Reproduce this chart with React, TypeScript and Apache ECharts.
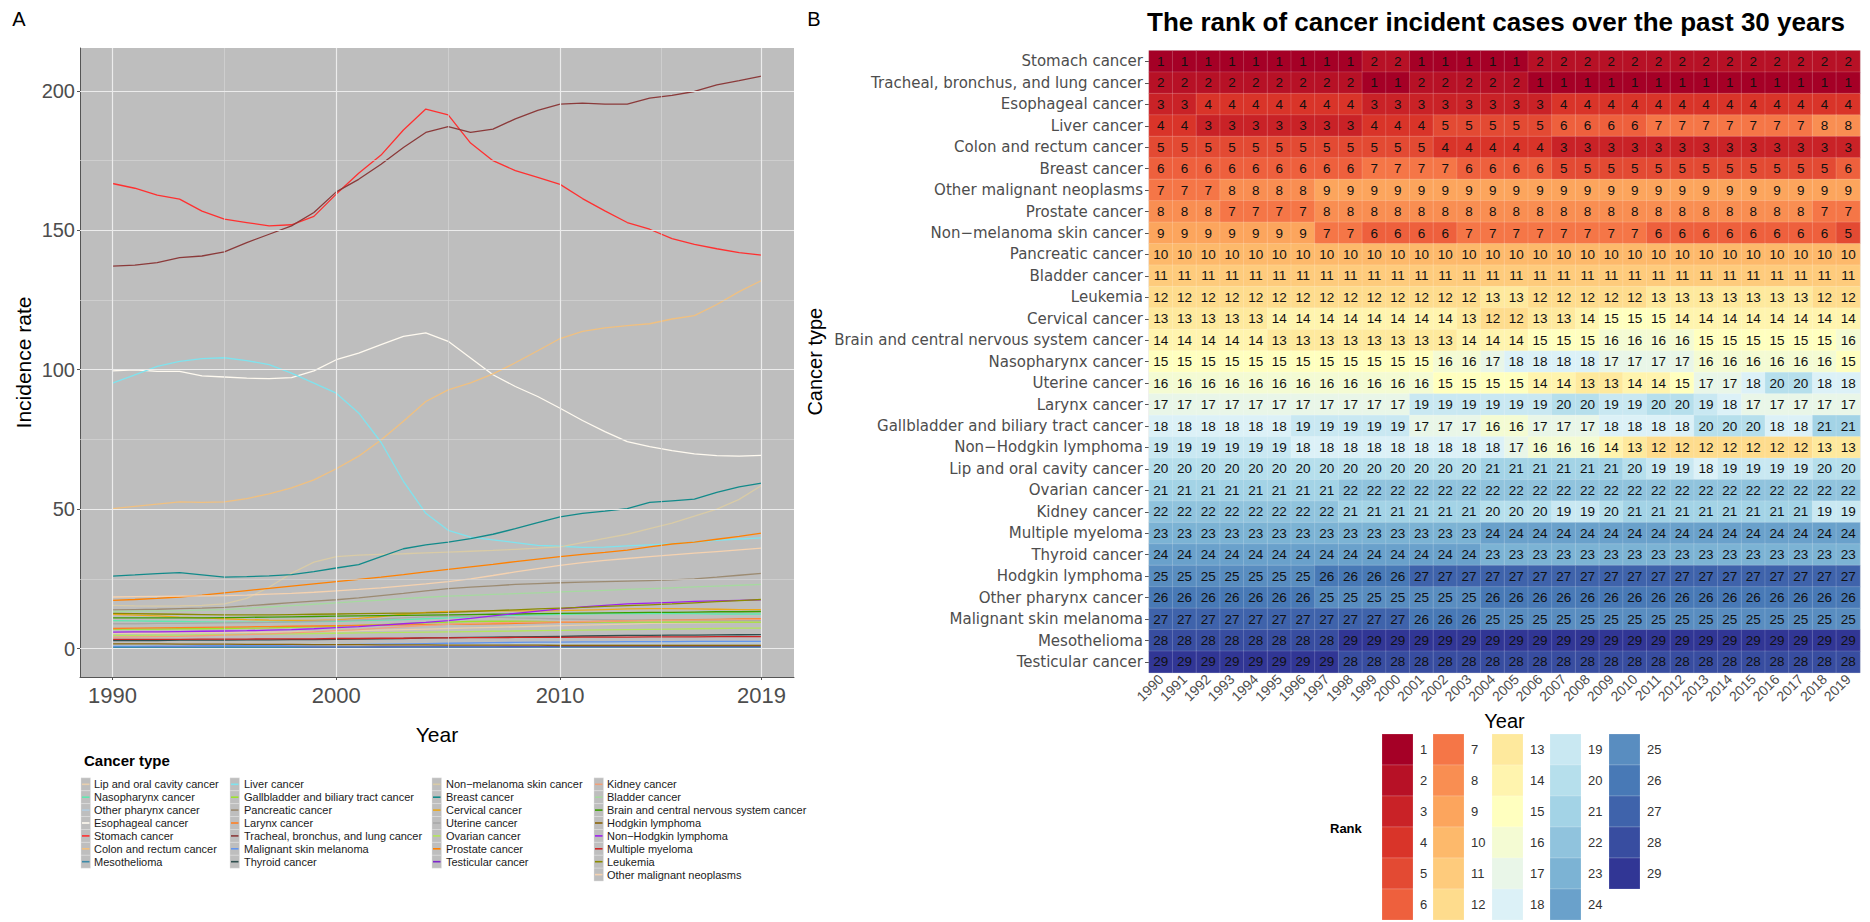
import React, { useEffect, useRef } from "react";
import * as echarts from "echarts";

// ---------- shared ----------
const years = [1990, 1991, 1992, 1993, 1994, 1995, 1996, 1997, 1998, 1999, 2000, 2001, 2002, 2003, 2004, 2005, 2006, 2007, 2008, 2009, 2010, 2011, 2012, 2013, 2014, 2015, 2016, 2017, 2018, 2019];

// ---------- panel A: incidence rate lines ----------
const xMajorTicks = [1990, 2000, 2010, 2019];
const xMinorTicks = [1995, 2005, 2014.5];
const yMajorTicks = [0, 50, 100, 150, 200];
const yMinorTicks = [25, 75, 125, 175];

const rateLip = [5.5, 5.5, 5.5, 5.6, 5.6, 5.7, 5.8, 5.9, 6.0, 6.1, 6.2, 6.4, 6.6, 6.8, 7.0, 7.2, 7.4, 7.6, 7.8, 8.0, 8.2, 8.4, 8.6, 8.8, 9.0, 9.1, 9.2, 9.3, 9.4, 9.5];
const rateNaso = [10.0, 9.9, 9.8, 9.7, 9.6, 9.5, 9.5, 9.5, 9.6, 9.7, 9.8, 10.0, 10.2, 10.4, 10.7, 11.0, 11.3, 11.6, 11.9, 12.1, 12.3, 12.4, 12.5, 12.5, 12.5, 12.5, 12.5, 12.4, 12.4, 12.4];
const rateOtherPharynx = [1.3, 1.3, 1.3, 1.3, 1.3, 1.3, 1.4, 1.4, 1.4, 1.5, 1.5, 1.5, 1.6, 1.6, 1.6, 1.7, 1.7, 1.7, 1.8, 1.8, 1.8, 1.9, 1.9, 1.9, 1.9, 2.0, 2.0, 2.0, 2.0, 2.0];
const rateEsophageal = [99.6, 100.0, 99.4, 99.4, 97.8, 97.4, 97.0, 96.8, 97.2, 99.6, 103.6, 106.0, 109.0, 112.0, 113.2, 110.2, 104.2, 98.2, 94.0, 90.4, 86.2, 81.8, 77.8, 74.2, 72.4, 71.0, 69.8, 69.2, 69.0, 69.3];
const rateStomach = [166.8, 165.1, 162.6, 161.2, 156.9, 154.0, 152.8, 151.6, 152.0, 155.0, 163.0, 170.5, 177.0, 186.0, 193.5, 191.4, 181.3, 175.0, 171.4, 169.0, 166.5, 161.4, 157.0, 152.8, 150.4, 147.0, 145.0, 143.4, 142.0, 141.1];
const rateColon = [50.2, 51.0, 51.8, 52.6, 52.4, 52.6, 53.8, 55.5, 57.6, 60.5, 64.5, 69.0, 74.8, 81.5, 88.6, 92.8, 95.3, 98.5, 102.5, 106.8, 111.2, 113.8, 115.0, 115.8, 116.5, 118.2, 119.4, 123.4, 128.0, 132.0];
const rateMeso = [0.45, 0.45, 0.46, 0.46, 0.46, 0.47, 0.47, 0.47, 0.47, 0.48, 0.48, 0.48, 0.48, 0.49, 0.49, 0.49, 0.49, 0.5, 0.5, 0.5, 0.5, 0.5, 0.51, 0.51, 0.51, 0.51, 0.52, 0.52, 0.52, 0.52];
const rateLiver = [95.2, 98.2, 101.2, 103.0, 104.0, 104.3, 103.3, 101.8, 98.8, 95.2, 91.6, 84.5, 74.0, 60.0, 48.5, 42.4, 40.0, 39.0, 38.0, 37.0, 36.7, 36.3, 36.4, 36.8, 37.2, 37.6, 38.2, 38.8, 39.3, 39.7];
const rateGallbladder = [7.0, 7.0, 7.0, 7.1, 7.1, 7.2, 7.3, 7.4, 7.6, 7.8, 8.0, 8.3, 8.6, 8.9, 9.2, 9.5, 9.7, 9.8, 9.8, 9.7, 9.6, 9.5, 9.5, 9.5, 9.5, 9.5, 9.5, 9.5, 9.5, 9.5];
const ratePancreatic = [13.9, 14.0, 14.1, 14.3, 14.5, 14.8, 15.3, 15.9, 16.5, 17.0, 17.5, 18.2, 19.0, 19.8, 20.7, 21.5, 22.0, 22.5, 23.0, 23.3, 23.6, 23.8, 24.0, 24.2, 24.4, 24.6, 25.0, 25.6, 26.3, 27.0];
const rateLarynx = [7.2, 7.3, 7.4, 7.5, 7.6, 7.7, 7.8, 7.9, 8.0, 8.1, 8.2, 8.3, 8.4, 8.5, 8.6, 8.7, 8.8, 8.9, 9.0, 9.2, 9.4, 9.6, 9.8, 10.0, 10.2, 10.3, 10.4, 10.5, 10.6, 10.7];
const rateLung = [137.2, 137.5, 138.4, 140.2, 140.8, 142.3, 145.6, 148.6, 151.6, 156.4, 163.8, 168.3, 173.7, 179.7, 185.1, 187.2, 185.1, 186.3, 190.0, 193.0, 195.3, 195.6, 195.3, 195.3, 197.4, 198.4, 199.8, 202.2, 203.7, 205.3];
const rateMelanoma = [0.8, 0.8, 0.9, 0.9, 1.0, 1.0, 1.1, 1.1, 1.2, 1.3, 1.4, 1.5, 1.6, 1.7, 1.8, 1.9, 2.0, 2.1, 2.2, 2.3, 2.3, 2.4, 2.4, 2.5, 2.5, 2.5, 2.6, 2.6, 2.6, 2.6];
const rateThyroid = [2.9, 2.9, 2.9, 3.0, 3.0, 3.0, 3.1, 3.1, 3.2, 3.2, 3.3, 3.4, 3.5, 3.6, 3.85, 3.9, 4.0, 4.1, 4.2, 4.3, 4.4, 4.5, 4.6, 4.7, 4.75, 4.8, 4.85, 4.9, 4.95, 5.0];
const rateNMSC = [15.5, 15.3, 15.2, 15.3, 15.5, 16.0, 18.0, 22.0, 27.0, 31.0, 33.0, 33.5, 33.8, 34.0, 34.3, 34.6, 34.9, 35.2, 35.6, 36.0, 36.5, 38.0, 39.5, 41.0, 43.0, 45.0, 47.5, 50.0, 53.5, 58.5];
const rateBreast = [26.0, 26.4, 26.9, 27.2, 26.4, 25.6, 25.8, 26.1, 26.5, 27.6, 28.9, 30.1, 33.0, 35.8, 37.2, 38.2, 39.4, 41.0, 43.0, 45.2, 47.2, 48.5, 49.3, 50.2, 52.4, 53.0, 53.6, 56.0, 58.0, 59.3];
const rateCervical = [12.3, 12.0, 11.7, 11.3, 11.0, 10.7, 10.4, 10.2, 10.1, 10.1, 10.3, 10.8, 11.5, 12.3, 13.0, 13.3, 13.4, 13.5, 13.5, 13.5, 13.6, 13.8, 14.0, 14.2, 14.3, 14.3, 14.2, 14.1, 14.0, 14.0];
const rateUterine = [8.9, 8.9, 9.0, 9.0, 9.1, 9.2, 9.3, 9.4, 9.6, 9.8, 10.0, 10.3, 10.6, 11.0, 11.4, 11.6, 11.5, 11.3, 11.0, 10.8, 10.6, 10.5, 10.4, 10.3, 10.2, 10.2, 10.1, 10.1, 10.1, 10.0];
const rateOvarian = [4.7, 4.7, 4.8, 4.8, 4.9, 5.0, 5.1, 5.2, 5.3, 5.4, 5.5, 5.6, 5.7, 5.8, 5.9, 6.0, 6.1, 6.2, 6.3, 6.4, 6.5, 6.6, 6.7, 6.8, 6.9, 7.0, 7.1, 7.2, 7.3, 7.3];
const rateProstate = [17.3, 17.6, 18.0, 18.5, 19.2, 20.0, 20.8, 21.6, 22.4, 23.2, 24.0, 24.8, 25.6, 26.5, 27.5, 28.4, 29.3, 30.2, 31.2, 32.1, 33.0, 33.8, 34.5, 35.3, 36.5, 37.5, 38.2, 39.2, 40.2, 41.4];
const rateTesticular = [0.36, 0.37, 0.38, 0.39, 0.41, 0.42, 0.44, 0.46, 0.48, 0.5, 0.52, 0.54, 0.56, 0.58, 0.6, 0.62, 0.63, 0.64, 0.65, 0.66, 0.67, 0.68, 0.69, 0.7, 0.7, 0.71, 0.72, 0.72, 0.73, 0.73];
const rateKidney = [4.1, 4.2, 4.3, 4.4, 4.6, 4.8, 5.0, 5.3, 5.6, 6.0, 6.4, 6.8, 7.3, 7.8, 8.3, 8.7, 9.0, 9.2, 9.4, 9.5, 9.6, 9.7, 9.8, 9.9, 10.0, 10.1, 10.2, 10.3, 10.4, 10.5];
const rateBladder = [13.3, 13.4, 13.5, 13.6, 13.8, 14.0, 14.4, 14.9, 15.4, 15.9, 16.4, 16.9, 17.4, 17.9, 18.4, 18.8, 19.1, 19.4, 19.7, 20.0, 20.3, 20.6, 20.9, 21.2, 21.5, 21.8, 22.1, 22.4, 22.7, 23.0];
const rateBrain = [11.0, 11.0, 11.0, 11.0, 11.0, 11.1, 11.2, 11.3, 11.4, 11.5, 11.6, 11.7, 11.8, 11.9, 12.0, 12.1, 12.2, 12.3, 12.4, 12.5, 12.6, 12.7, 12.8, 12.9, 13.0, 13.0, 13.1, 13.2, 13.2, 13.3];
const rateHodgkin = [1.7, 1.7, 1.7, 1.6, 1.6, 1.6, 1.5, 1.5, 1.5, 1.4, 1.4, 1.4, 1.3, 1.3, 1.3, 1.2, 1.2, 1.2, 1.2, 1.2, 1.1, 1.1, 1.1, 1.1, 1.1, 1.1, 1.1, 1.1, 1.1, 1.1];
const rateNHL = [5.9, 6.0, 6.0, 6.1, 6.2, 6.3, 6.4, 6.6, 6.8, 7.1, 7.5, 7.9, 8.4, 8.9, 9.4, 10.0, 10.8, 11.7, 12.6, 13.4, 14.2, 14.9, 15.5, 16.0, 16.3, 16.6, 16.9, 17.1, 17.3, 17.5];
const rateMyeloma = [3.3, 3.3, 3.3, 3.3, 3.4, 3.4, 3.4, 3.5, 3.5, 3.5, 3.6, 3.6, 3.7, 3.7, 3.8, 3.8, 3.9, 3.9, 4.0, 4.0, 4.0, 4.1, 4.1, 4.1, 4.2, 4.2, 4.2, 4.3, 4.3, 4.3];
const rateLeukemia = [12.6, 12.5, 12.4, 12.3, 12.2, 12.1, 12.1, 12.1, 12.2, 12.3, 12.4, 12.5, 12.6, 12.7, 12.8, 13.0, 13.3, 13.6, 13.9, 14.2, 14.5, 14.8, 15.1, 15.4, 15.7, 16.0, 16.4, 16.8, 17.2, 17.6];
const rateOther = [18.5, 18.6, 18.7, 18.8, 18.9, 19.0, 19.2, 19.5, 19.8, 20.2, 20.7, 21.2, 21.8, 22.5, 23.2, 24.0, 25.0, 26.2, 27.5, 28.7, 29.8, 30.8, 31.6, 32.3, 33.0, 33.6, 34.2, 34.8, 35.4, 36.0];

const lineSeriesDefs: [string, string, number[]][] = [
  ["Lip and oral cavity cancer", "#e8cfae", rateLip],
  ["Nasopharynx cancer", "#5ee8b0", rateNaso],
  ["Other pharynx cancer", "#b4cde0", rateOtherPharynx],
  ["Esophageal cancer", "#fffaf0", rateEsophageal],
  ["Stomach cancer", "#ff3030", rateStomach],
  ["Colon and rectum cancer", "#f0c080", rateColon],
  ["Liver cancer", "#7fe3ee", rateLiver],
  ["Gallbladder and biliary tract cancer", "#9be22d", rateGallbladder],
  ["Pancreatic cancer", "#9c8b72", ratePancreatic],
  ["Larynx cancer", "#ff7f24", rateLarynx],
  ["Tracheal, bronchus, and lung cancer", "#8b3a3a", rateLung],
  ["Malignant skin melanoma", "#6495ed", rateMelanoma],
  ["Non\u2212melanoma skin cancer", "#d9cba6", rateNMSC],
  ["Breast cancer", "#118a8a", rateBreast],
  ["Cervical cancer", "#eaa81c", rateCervical],
  ["Uterine cancer", "#a9a9a9", rateUterine],
  ["Ovarian cancer", "#b3e65c", rateOvarian],
  ["Prostate cancer", "#ff8000", rateProstate],
  ["Testicular cancer", "#7d26cd", rateTesticular],
  ["Kidney cancer", "#f0a07a", rateKidney],
  ["Bladder cancer", "#a6d9a0", rateBladder],
  ["Brain and central nervous system cancer", "#3b9c00", rateBrain],
  ["Thyroid cancer", "#2f4f4f", rateThyroid],
  ["Mesothelioma", "#3c8aa8", rateMeso],
  ["Hodgkin lymphoma", "#8b6508", rateHodgkin],
  ["Non\u2212Hodgkin lymphoma", "#a020f0", rateNHL],
  ["Multiple myeloma", "#cd2626", rateMyeloma],
  ["Leukemia", "#8b8b00", rateLeukemia],
  ["Other malignant neoplasms", "#f5d2b0", rateOther],
];

const legendCol1 = ["Lip and oral cavity cancer", "Nasopharynx cancer", "Other pharynx cancer", "Esophageal cancer", "Stomach cancer", "Colon and rectum cancer", "Mesothelioma"];
const legendCol2 = ["Liver cancer", "Gallbladder and biliary tract cancer", "Pancreatic cancer", "Larynx cancer", "Tracheal, bronchus, and lung cancer", "Malignant skin melanoma", "Thyroid cancer"];
const legendCol3 = ["Non\u2212melanoma skin cancer", "Breast cancer", "Cervical cancer", "Uterine cancer", "Ovarian cancer", "Prostate cancer", "Testicular cancer"];
const legendCol4 = ["Kidney cancer", "Bladder cancer", "Brain and central nervous system cancer", "Hodgkin lymphoma", "Non\u2212Hodgkin lymphoma", "Multiple myeloma", "Leukemia", "Other malignant neoplasms"];

// ---------- panel B: rank heatmap ----------
const heatCancers = [
  "Stomach cancer", "Tracheal, bronchus, and lung cancer", "Esophageal cancer", "Liver cancer", "Colon and rectum cancer",
  "Breast cancer", "Other malignant neoplasms", "Prostate cancer", "Non\u2212melanoma skin cancer", "Pancreatic cancer",
  "Bladder cancer", "Leukemia", "Cervical cancer", "Brain and central nervous system cancer", "Nasopharynx cancer",
  "Uterine cancer", "Larynx cancer", "Gallbladder and biliary tract cancer", "Non\u2212Hodgkin lymphoma", "Lip and oral cavity cancer",
  "Ovarian cancer", "Kidney cancer", "Multiple myeloma", "Thyroid cancer", "Hodgkin lymphoma",
  "Other pharynx cancer", "Malignant skin melanoma", "Mesothelioma", "Testicular cancer",
];

const rankStomach = [1, 1, 1, 1, 1, 1, 1, 1, 1, 2, 2, 1, 1, 1, 1, 1, 2, 2, 2, 2, 2, 2, 2, 2, 2, 2, 2, 2, 2, 2];
const rankLung = [2, 2, 2, 2, 2, 2, 2, 2, 2, 1, 1, 2, 2, 2, 2, 2, 1, 1, 1, 1, 1, 1, 1, 1, 1, 1, 1, 1, 1, 1];
const rankEsophageal = [3, 3, 4, 4, 4, 4, 4, 4, 4, 3, 3, 3, 3, 3, 3, 3, 3, 4, 4, 4, 4, 4, 4, 4, 4, 4, 4, 4, 4, 4];
const rankLiver = [4, 4, 3, 3, 3, 3, 3, 3, 3, 4, 4, 4, 5, 5, 5, 5, 5, 6, 6, 6, 6, 7, 7, 7, 7, 7, 7, 7, 8, 8];
const rankColon = [5, 5, 5, 5, 5, 5, 5, 5, 5, 5, 5, 5, 4, 4, 4, 4, 4, 3, 3, 3, 3, 3, 3, 3, 3, 3, 3, 3, 3, 3];
const rankBreast = [6, 6, 6, 6, 6, 6, 6, 6, 6, 7, 7, 7, 7, 6, 6, 6, 6, 5, 5, 5, 5, 5, 5, 5, 5, 5, 5, 5, 5, 6];
const rankOther = [7, 7, 7, 8, 8, 8, 8, 9, 9, 9, 9, 9, 9, 9, 9, 9, 9, 9, 9, 9, 9, 9, 9, 9, 9, 9, 9, 9, 9, 9];
const rankProstate = [8, 8, 8, 7, 7, 7, 7, 8, 8, 8, 8, 8, 8, 8, 8, 8, 8, 8, 8, 8, 8, 8, 8, 8, 8, 8, 8, 8, 7, 7];
const rankNMSC = [9, 9, 9, 9, 9, 9, 9, 7, 7, 6, 6, 6, 6, 7, 7, 7, 7, 7, 7, 7, 7, 6, 6, 6, 6, 6, 6, 6, 6, 5];
const rankPancreatic = [10, 10, 10, 10, 10, 10, 10, 10, 10, 10, 10, 10, 10, 10, 10, 10, 10, 10, 10, 10, 10, 10, 10, 10, 10, 10, 10, 10, 10, 10];
const rankBladder = [11, 11, 11, 11, 11, 11, 11, 11, 11, 11, 11, 11, 11, 11, 11, 11, 11, 11, 11, 11, 11, 11, 11, 11, 11, 11, 11, 11, 11, 11];
const rankLeukemia = [12, 12, 12, 12, 12, 12, 12, 12, 12, 12, 12, 12, 12, 12, 13, 13, 12, 12, 12, 12, 12, 13, 13, 13, 13, 13, 13, 13, 12, 12];
const rankCervical = [13, 13, 13, 13, 13, 14, 14, 14, 14, 14, 14, 14, 14, 13, 12, 12, 13, 13, 14, 15, 15, 15, 14, 14, 14, 14, 14, 14, 14, 14];
const rankBrain = [14, 14, 14, 14, 14, 13, 13, 13, 13, 13, 13, 13, 13, 14, 14, 14, 15, 15, 15, 16, 16, 16, 16, 15, 15, 15, 15, 15, 15, 16];
const rankNaso = [15, 15, 15, 15, 15, 15, 15, 15, 15, 15, 15, 15, 16, 16, 17, 18, 18, 18, 18, 17, 17, 17, 17, 16, 16, 16, 16, 16, 16, 15];
const rankUterine = [16, 16, 16, 16, 16, 16, 16, 16, 16, 16, 16, 16, 15, 15, 15, 15, 14, 14, 13, 13, 14, 14, 15, 17, 17, 18, 20, 20, 18, 18];
const rankLarynx = [17, 17, 17, 17, 17, 17, 17, 17, 17, 17, 17, 19, 19, 19, 19, 19, 19, 20, 20, 19, 19, 20, 20, 19, 18, 17, 17, 17, 17, 17];
const rankGallbladder = [18, 18, 18, 18, 18, 18, 19, 19, 19, 19, 19, 17, 17, 17, 16, 16, 17, 17, 17, 18, 18, 18, 18, 20, 20, 20, 18, 18, 21, 21];
const rankNHL = [19, 19, 19, 19, 19, 19, 18, 18, 18, 18, 18, 18, 18, 18, 18, 17, 16, 16, 16, 14, 13, 12, 12, 12, 12, 12, 12, 12, 13, 13];
const rankLip = [20, 20, 20, 20, 20, 20, 20, 20, 20, 20, 20, 20, 20, 20, 21, 21, 21, 21, 21, 21, 20, 19, 19, 18, 19, 19, 19, 19, 20, 20];
const rankOvarian = [21, 21, 21, 21, 21, 21, 21, 21, 22, 22, 22, 22, 22, 22, 22, 22, 22, 22, 22, 22, 22, 22, 22, 22, 22, 22, 22, 22, 22, 22];
const rankKidney = [22, 22, 22, 22, 22, 22, 22, 22, 21, 21, 21, 21, 21, 21, 20, 20, 20, 19, 19, 20, 21, 21, 21, 21, 21, 21, 21, 21, 19, 19];
const rankMyeloma = [23, 23, 23, 23, 23, 23, 23, 23, 23, 23, 23, 23, 23, 23, 24, 24, 24, 24, 24, 24, 24, 24, 24, 24, 24, 24, 24, 24, 24, 24];
const rankThyroid = [24, 24, 24, 24, 24, 24, 24, 24, 24, 24, 24, 24, 24, 24, 23, 23, 23, 23, 23, 23, 23, 23, 23, 23, 23, 23, 23, 23, 23, 23];
const rankHodgkin = [25, 25, 25, 25, 25, 25, 25, 26, 26, 26, 26, 27, 27, 27, 27, 27, 27, 27, 27, 27, 27, 27, 27, 27, 27, 27, 27, 27, 27, 27];
const rankOtherPharynx = [26, 26, 26, 26, 26, 26, 26, 25, 25, 25, 25, 25, 25, 25, 26, 26, 26, 26, 26, 26, 26, 26, 26, 26, 26, 26, 26, 26, 26, 26];
const rankMelanoma = [27, 27, 27, 27, 27, 27, 27, 27, 27, 27, 27, 26, 26, 26, 25, 25, 25, 25, 25, 25, 25, 25, 25, 25, 25, 25, 25, 25, 25, 25];
const rankMeso = [28, 28, 28, 28, 28, 28, 28, 28, 29, 29, 29, 29, 29, 29, 29, 29, 29, 29, 29, 29, 29, 29, 29, 29, 29, 29, 29, 29, 29, 29];
const rankTesticular = [29, 29, 29, 29, 29, 29, 29, 29, 28, 28, 28, 28, 28, 28, 28, 28, 28, 28, 28, 28, 28, 28, 28, 28, 28, 28, 28, 28, 28, 28];

const heatRanks = [
  rankStomach, rankLung, rankEsophageal, rankLiver, rankColon, rankBreast, rankOther, rankProstate, rankNMSC, rankPancreatic,
  rankBladder, rankLeukemia, rankCervical, rankBrain, rankNaso, rankUterine, rankLarynx, rankGallbladder, rankNHL, rankLip,
  rankOvarian, rankKidney, rankMyeloma, rankThyroid, rankHodgkin, rankOtherPharynx, rankMelanoma, rankMeso, rankTesticular,
];

const rankLevels = [1, 2, 3, 4, 5, 6, 7, 8, 9, 10, 11, 12, 13, 14, 15, 16, 17, 18, 19, 20, 21, 22, 23, 24, 25, 26, 27, 28, 29];
const RDYLBU = ["#a50026", "#d73027", "#f46d43", "#fdae61", "#fee090", "#ffffbf", "#e0f3f8", "#abd9e9", "#74add1", "#4575b4", "#313695"];

function hexToRgb(h: string) {
  const v = parseInt(h.slice(1), 16);
  return [(v >> 16) & 255, (v >> 8) & 255, v & 255];
}
function rampColor(i: number, n: number) {
  const t = (i / (n - 1)) * (RDYLBU.length - 1);
  const k = Math.min(Math.floor(t), RDYLBU.length - 2);
  const f = t - k;
  const a = hexToRgb(RDYLBU[k]);
  const b = hexToRgb(RDYLBU[k + 1]);
  const c = a.map((av, j) => Math.round(av + (b[j] - av) * f));
  return "#" + c.map((x) => x.toString(16).padStart(2, "0")).join("");
}
const rankColors = rankLevels.map((_, i) => rampColor(i, rankLevels.length));

const FONT = "Liberation Sans, Arial, Helvetica, sans-serif";

function buildOption() {
  const series: any[] = [];

  // gridlines for panel A (drawn via the axes' own scale)
  series.push({
    type: "line",
    xAxisIndex: 0,
    yAxisIndex: 0,
    data: [],
    silent: true,
    z: 1,
    markLine: {
      silent: true,
      symbol: ["none", "none"],
      label: { show: false },
      emphasis: { disabled: true },
      data: [
        ...xMinorTicks.map((v) => ({ xAxis: v, lineStyle: { color: "#d6d6d6", width: 0.7, type: "solid" } })),
        ...yMinorTicks.map((v) => ({ yAxis: v, lineStyle: { color: "#d6d6d6", width: 0.7, type: "solid" } })),
        ...xMajorTicks.map((v) => ({ xAxis: v, lineStyle: { color: "#ececec", width: 1.2, type: "solid" } })),
        ...yMajorTicks.map((v) => ({ yAxis: v, lineStyle: { color: "#ececec", width: 1.2, type: "solid" } })),
      ],
    },
  });

  lineSeriesDefs.forEach(([name, color, vals]) => {
    series.push({
      type: "line",
      name,
      xAxisIndex: 0,
      yAxisIndex: 0,
      data: years.map((y, i) => [y, vals[i]]),
      showSymbol: false,
      symbol: "none",
      lineStyle: { color, width: 1.3 },
      itemStyle: { color },
      z: 3,
      emphasis: { disabled: true },
    });
  });

  const heatData: number[][] = [];
  heatRanks.forEach((row, r) => {
    row.forEach((v, c) => heatData.push([c, r, v]));
  });
  series.push({
    type: "heatmap",
    xAxisIndex: 1,
    yAxisIndex: 1,
    data: heatData,
    itemStyle: { borderColor: "rgba(255,255,255,0.28)", borderWidth: 0.6 },
    label: {
      show: true,
      formatter: (p: any) => String(p.value[2]),
      color: "#111111",
      fontSize: 13.5,
      fontFamily: FONT,
    },
    emphasis: { disabled: true },
  });

  // graphics: panel letters, titles, legends
  const graphics: any[] = [];
  graphics.push({ type: "text", x: 19, y: 19, style: { text: "A", fontSize: 20, fontFamily: FONT, fill: "#000", align: "center", verticalAlign: "middle" } });
  graphics.push({ type: "text", x: 814, y: 19, style: { text: "B", fontSize: 20, fontFamily: FONT, fill: "#000", align: "center", verticalAlign: "middle" } });
  graphics.push({
    type: "text", x: 1496, y: 22,
    style: { text: "The rank of cancer incident cases over the past 30 years", fontSize: 26, fontWeight: "bold", fontFamily: FONT, fill: "#000", align: "center", verticalAlign: "middle" },
  });

  // Cancer type legend (panel A)
  graphics.push({ type: "text", x: 84, y: 760, style: { text: "Cancer type", fontSize: 15, fontWeight: "bold", fontFamily: FONT, fill: "#000", align: "left", verticalAlign: "middle" } });
  const colorByName: Record<string, string> = {};
  lineSeriesDefs.forEach(([n, c]) => (colorByName[n] = c));
  const legendCols = [legendCol1, legendCol2, legendCol3, legendCol4];
  const keyX = [81, 230, 432, 594];
  const textX = [94, 244, 446, 607];
  legendCols.forEach((col, ci) => {
    col.forEach((name, ri) => {
      const cy = 784.3 + ri * 12.9;
      graphics.push({ type: "rect", shape: { x: keyX[ci], y: cy - 6.45, width: 9.5, height: 12.9 }, style: { fill: "#bebebe", stroke: "#e6e6e6", lineWidth: 0.4 } });
      graphics.push({ type: "line", shape: { x1: keyX[ci] + 1, y1: cy, x2: keyX[ci] + 8.5, y2: cy }, style: { stroke: colorByName[name], lineWidth: 1.6 } });
      graphics.push({ type: "text", x: textX[ci], y: cy, style: { text: name, fontSize: 11, fontFamily: FONT, fill: "#1a1a1a", align: "left", verticalAlign: "middle" } });
    });
  });

  // Rank legend (panel B)
  graphics.push({ type: "text", x: 1330, y: 828, style: { text: "Rank", fontSize: 13, fontWeight: "bold", fontFamily: FONT, fill: "#000", align: "left", verticalAlign: "middle" } });
  const rankColX = [1382, 1433, 1492, 1550, 1609];
  const tileH = 31;
  rankLevels.forEach((rk, i) => {
    const ci = Math.floor(i / 6);
    const ri = i % 6;
    const x = rankColX[ci];
    const y = 734 + ri * tileH;
    graphics.push({ type: "rect", shape: { x, y, width: 31, height: tileH }, style: { fill: rankColors[i], stroke: "rgba(255,255,255,0.35)", lineWidth: 0.5 } });
    graphics.push({ type: "text", x: x + 38, y: y + tileH / 2, style: { text: String(rk), fontSize: 13, fontFamily: FONT, fill: "#333", align: "left", verticalAlign: "middle" } });
  });

  return {
    animation: false,
    backgroundColor: "#ffffff",
    textStyle: { fontFamily: FONT },
    grid: [
      { left: 80, top: 48, width: 714, height: 629, show: true, backgroundColor: "#bebebe", borderWidth: 0, containLabel: false },
      { left: 1149, top: 50.7, width: 711, height: 622, show: true, backgroundColor: "transparent", borderColor: "#dcdcdc", borderWidth: 1, containLabel: false },
    ],
    xAxis: [
      {
        gridIndex: 0,
        type: "value",
        min: 1988.55,
        max: 2020.45,
        axisLine: { show: true, onZero: false, lineStyle: { color: "#555", width: 1 } },
        axisTick: { show: true, length: 3, customValues: xMajorTicks, lineStyle: { color: "#555" } },
        axisLabel: { customValues: xMajorTicks, formatter: (v: number) => String(v), fontSize: 22, color: "#4d4d4d", margin: 7, fontFamily: FONT },
        splitLine: { show: false },
        name: "Year",
        nameLocation: "middle",
        nameGap: 47,
        nameMoveOverlap: false,
        nameTextStyle: { fontSize: 21, color: "#000", fontFamily: FONT },
      },
      {
        gridIndex: 1,
        type: "category",
        data: years.map(String),
        axisLine: { show: false },
        axisTick: { show: false },
        axisLabel: { rotate: 45, interval: 0, fontSize: 14, color: "#4d4d4d", margin: 4, fontFamily: FONT },
        splitLine: { show: false },
        name: "Year",
        nameLocation: "middle",
        nameGap: 38,
        nameMoveOverlap: false,
        nameTextStyle: { fontSize: 20, color: "#000", fontFamily: FONT },
      },
    ],
    yAxis: [
      {
        gridIndex: 0,
        type: "value",
        min: -10.2,
        max: 215.4,
        axisLine: { show: true, onZero: false, lineStyle: { color: "#555", width: 1 } },
        axisTick: { show: true, length: 3, customValues: yMajorTicks, lineStyle: { color: "#555" } },
        axisLabel: { customValues: yMajorTicks, formatter: (v: number) => String(v), fontSize: 20, color: "#4d4d4d", margin: 5, fontFamily: FONT },
        splitLine: { show: false },
        name: "Incidence rate",
        nameLocation: "middle",
        nameGap: 46,
        nameMoveOverlap: false,
        nameTextStyle: { fontSize: 21, color: "#000", fontFamily: FONT },
      },
      {
        gridIndex: 1,
        type: "category",
        data: heatCancers,
        inverse: true,
        axisLine: { show: false },
        axisTick: { show: true, length: 4, alignWithLabel: true, lineStyle: { color: "#555" } },
        axisLabel: { fontSize: 15, color: "#4d4d4d", margin: 6, fontFamily: "DejaVu Sans, Verdana, sans-serif", interval: 0 },
        splitLine: { show: false },
        name: "Cancer type",
        nameLocation: "middle",
        nameGap: 324,
        nameMoveOverlap: false,
        nameTextStyle: { fontSize: 20, color: "#000", fontFamily: FONT },
      },
    ],
    visualMap: {
      type: "piecewise",
      show: false,
      seriesIndex: series.length - 1,
      dimension: 2,
      pieces: rankLevels.map((v, i) => ({ value: v, color: rankColors[i] })),
    },
    series,
    graphic: graphics,
  };
}

export default function App() {
  const ref = useRef<HTMLDivElement | null>(null);
  useEffect(() => {
    if (!ref.current) return;
    const chart = echarts.init(ref.current, undefined, { renderer: "svg" });
    chart.setOption(buildOption() as any);
    return () => chart.dispose();
  }, []);
  return <div ref={ref} style={{ position: "absolute", left: 0, top: 0, width: 1870, height: 922 }} />;
}
